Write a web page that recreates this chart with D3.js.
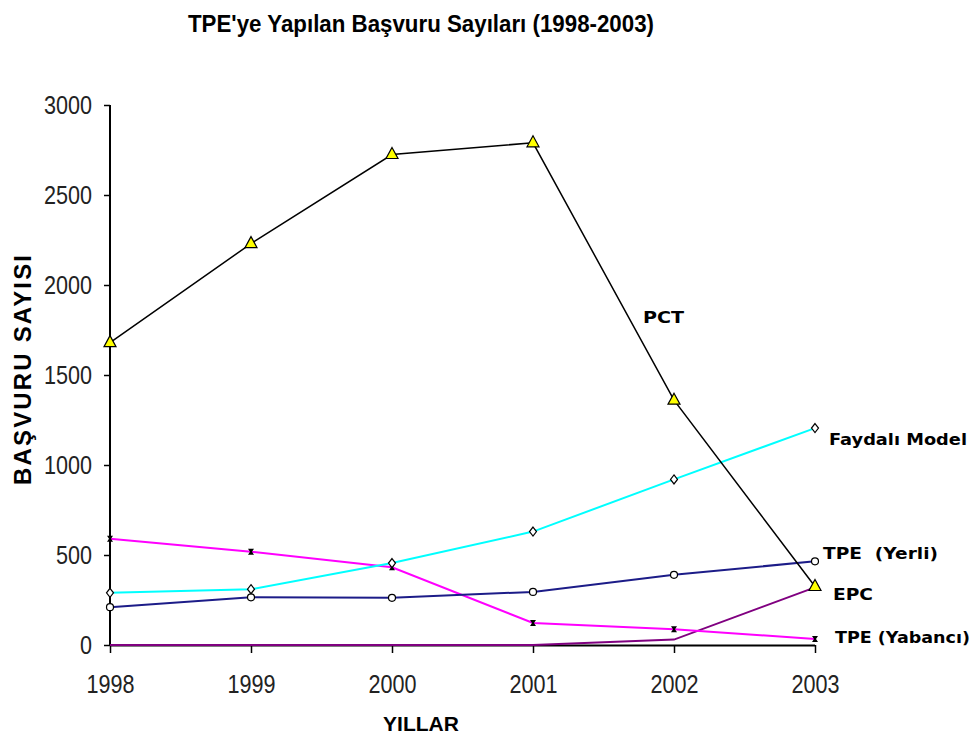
<!DOCTYPE html>
<html>
<head>
<meta charset="utf-8">
<script src="https://cdn.jsdelivr.net/npm/d3@7"></script>
<style>
  body { margin: 0; background: #fff; }
  svg { display: block; }
</style>
</head>
<body>
<script>
var years = [1998, 1999, 2000, 2001, 2002, 2003];
var yTicks = [0, 500, 1000, 1500, 2000, 2500, 3000];

var pct = [1680, 2230, 2725, 2790, 1360, 325];
var faydaliModel = [290, 310, 455, 630, 920, 1205];
var tpeYerli = [210, 265, 262, 295, 390, 465];
var tpeYabanci = [590, 518, 432, 122, 88, 33];
var epc = [0, 0, 0, 0, 30, 320];

var width = 974,
    height = 745;

var x = d3.scalePoint()
    .domain(years)
    .range([110, 815]);

var y = d3.scaleLinear()
    .domain([0, 3000])
    .range([645, 105]);

var svg = d3.select("body").append("svg")
    .attr("width", width)
    .attr("height", height);

var sans = "'Liberation Sans', Arial, sans-serif";

// title
svg.append("text")
    .attr("x", 188)
    .attr("y", 32)
    .attr("textLength", 466)
    .attr("lengthAdjust", "spacingAndGlyphs")
    .style("font-family", sans)
    .style("font-weight", "bold")
    .style("font-size", "24px")
    .text("TPE'ye Yapılan Başvuru Sayıları (1998-2003)");

// axes
svg.append("g")
    .attr("transform", "translate(110,0)")
    .call(d3.axisLeft(y).tickValues(yTicks).tickFormat(d3.format("d")).tickSize(6).tickPadding(12));

svg.append("g")
    .attr("transform", "translate(0,645)")
    .call(d3.axisBottom(x).tickFormat(d3.format("d")).tickSize(8).tickPadding(22));

svg.selectAll(".domain").remove();
svg.append("line")
    .attr("x1", 110).attr("x2", 110)
    .attr("y1", y(3000)).attr("y2", y(0))
    .attr("stroke", "#000").attr("stroke-width", 2);

svg.selectAll(".tick line").attr("stroke", "#000").attr("stroke-width", 1.5);
svg.selectAll(".tick text")
    .attr("textLength", function() { return this.textContent.length * 12; })
    .attr("lengthAdjust", "spacingAndGlyphs")
    .style("font-family", sans)
    .style("font-size", "26px")
    .style("fill", "#222");

// axis titles
svg.append("text")
    .attr("x", 421)
    .attr("y", 731)
    .attr("text-anchor", "middle")
    .style("font-family", sans)
    .style("font-weight", "bold")
    .style("font-size", "21px")
    .text("YILLAR");

svg.append("text")
    .attr("transform", "translate(31,370) rotate(-90)")
    .attr("text-anchor", "middle")
    .attr("textLength", 230)
    .attr("lengthAdjust", "spacing")
    .style("font-family", sans)
    .style("font-weight", "bold")
    .style("font-size", "24px")
    .text("BAŞVURU SAYISI");

var line = d3.line()
    .x(function(d, i) { return x(years[i]); })
    .y(function(d) { return y(d); });

var series = [
  { name: "EPC", values: epc, color: "#800080", width: 2 },
  { name: "TPE (Yabancı)", values: tpeYabanci, color: "#ff00ff", width: 2 },
  { name: "TPE (Yerli)", values: tpeYerli, color: "#1c1c88", width: 2 },
  { name: "Faydalı Model", values: faydaliModel, color: "#00ffff", width: 2 },
  { name: "PCT", values: pct, color: "#000", width: 1.5 }
];

svg.append("line")
    .attr("x1", 110).attr("x2", 815)
    .attr("y1", 645.5).attr("y2", 645.5)
    .attr("stroke", "#000").attr("stroke-width", 2);

svg.selectAll(".series")
    .data(series)
  .enter().append("path")
    .attr("class", "series")
    .attr("d", function(d) { return line(d.values); })
    .attr("fill", "none")
    .attr("stroke", function(d) { return d.color; })
    .attr("stroke-width", function(d) { return d.width; });

// markers
svg.selectAll(".yab")
    .data(tpeYabanci)
  .enter().append("path")
    .attr("class", "yab")
    .attr("transform", function(d, i) { return "translate(" + x(years[i]) + "," + y(d) + ")"; })
    .attr("d", "M-3,-3 L3,-3 L1,0 L3,3 L-3,3 L-1,0 Z")
    .attr("fill", "#000");

svg.selectAll(".yerli")
    .data(tpeYerli)
  .enter().append("circle")
    .attr("class", "yerli")
    .attr("cx", function(d, i) { return x(years[i]); })
    .attr("cy", function(d) { return y(d); })
    .attr("r", 3.5)
    .attr("fill", "#fff")
    .attr("stroke", "#000")
    .attr("stroke-width", 1.2);

svg.selectAll(".fay")
    .data(faydaliModel)
  .enter().append("path")
    .attr("class", "fay")
    .attr("transform", function(d, i) { return "translate(" + x(years[i]) + "," + y(d) + ")"; })
    .attr("d", "M0,-4.5 L3.5,0 L0,4.5 L-3.5,0 Z")
    .attr("fill", "#fff")
    .attr("stroke", "#000")
    .attr("stroke-width", 1.2);

svg.selectAll(".pct")
    .data(pct)
  .enter().append("path")
    .attr("class", "pct")
    .attr("transform", function(d, i) { return "translate(" + x(years[i]) + "," + y(d) + ")"; })
    .attr("d", "M0,-7 L6,4 L-6,4 Z")
    .attr("fill", "#ffff00")
    .attr("stroke", "#000")
    .attr("stroke-width", 1.2);

// series labels
var labels = [
  { text: "PCT", x: 643, y: 323, len: 41 },
  { text: "Faydalı Model", x: 829, y: 445, len: 138 },
  { text: "TPE  (Yerli)", x: 823, y: 559, len: 115 },
  { text: "EPC", x: 833, y: 600, len: 40 },
  { text: "TPE (Yabancı)", x: 835, y: 643, len: 135 }
];

svg.selectAll(".lbl")
    .data(labels)
  .enter().append("text")
    .attr("class", "lbl")
    .attr("x", function(d) { return d.x; })
    .attr("y", function(d) { return d.y; })
    .attr("textLength", function(d) { return d.len; })
    .attr("lengthAdjust", "spacingAndGlyphs")
    .style("font-family", "'DejaVu Sans', Verdana, sans-serif")
    .style("font-weight", "bold")
    .style("font-size", "15px")
    .style("white-space", "pre")
    .text(function(d) { return d.text; });
</script>
</body>
</html>
